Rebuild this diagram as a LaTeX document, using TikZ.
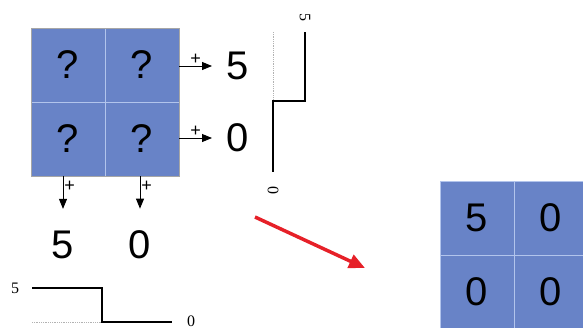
\documentclass[tikz,border=0pt]{standalone}
\usepackage{fontspec}
\setmainfont{Liberation Sans}
\newfontfamily\plotfont{Liberation Serif}
\usepackage{tikz}
\usetikzlibrary{arrows.meta,positioning}

\definecolor{cellfill}{RGB}{104,131,199}
\definecolor{cellline}{RGB}{178,196,236}
\definecolor{redarrow}{RGB}{230,32,40}

\begin{document}
\begin{tikzpicture}[
  x=1pt, y=-1pt,
  cell/.style={draw=cellline, fill=cellfill, minimum size=74pt, inner sep=0pt,
    font=\fontsize{40}{44}\selectfont},
  num/.style={inner sep=0pt, font=\fontsize{40}{44}\selectfont},
  plus/.style={font=\fontsize{18}{20}\selectfont, inner sep=1pt},
  arrow/.style={-{Triangle[length=10pt,width=8pt]}, line width=0.9pt},
  profile/.style={line width=2pt},
  guide/.style={gray!60, line width=0.8pt, densely dotted},
  lab/.style={font=\plotfont\fontsize{16}{18}\selectfont, inner sep=0pt},
]
  \useasboundingbox (0,0) rectangle (583,327);
  \clip (0,0) rectangle (583,327);

  % unknown block
  \node[cell] (q11) at (68,65) {?};
  \node[cell] (q12) at (142,65) {?};
  \node[cell] (q21) at (68,139) {?};
  \node[cell] (q22) at (142,139) {?};
  \draw[gray!70, line width=0.6pt] (q11.north west) rectangle (q22.south east);

  % row sums
  \node[num, anchor=west] (r1) at (226,66) {5};
  \node[num, anchor=west] (r2) at (226,138) {0};
  \draw[arrow] (q12.east |- r1) -- node[plus, above] {+} ([xshift=-14pt]r1.west);
  \draw[arrow] (q22.east |- r2) -- node[plus, above] {+} ([xshift=-14pt]r2.west);

  % column sums
  \node[num] (c1) at (63,245) {5};
  \node[num] (c2) at (140,245) {0};
  \draw[arrow] (c1 |- q21.south) -- node[plus, right, pos=0.3] {+} ([yshift=22pt]c1.north);
  \draw[arrow] (c2 |- q22.south) -- node[plus, right, pos=0.3] {+} ([yshift=22pt]c2.north);

  % row profile
  \draw[guide] (273,32) -- (273,101);
  \draw[profile] (305,32) -- (305,101) -- (273,101) -- (273,172);
  \node[lab, rotate=-90] (p5) at (305,17) {5};
  \node[lab, rotate=-90] (p0) at (273,190) {0};

  % column profile
  \draw[guide] (32,322) -- (102,322);
  \draw[profile] (32,288) -- (102,288) -- (102,322) -- (172,322);
  \node[lab] (h5) at (15,288) {5};
  \node[lab] (h0) at (191,321) {0};

  % solution
  \coordinate (from) at (255,217);
  \coordinate (to) at (365,268);
  \draw[-{Triangle[length=16pt,width=14pt]}, redarrow, line width=3.5pt] (from) -- (to);

  \node[cell] (s11) at (477,218) {5};
  \node[cell] (s12) at (551,218) {0};
  \node[cell] (s21) at (477,292) {0};
  \node[cell] (s22) at (551,292) {0};
\end{tikzpicture}
\end{document}
